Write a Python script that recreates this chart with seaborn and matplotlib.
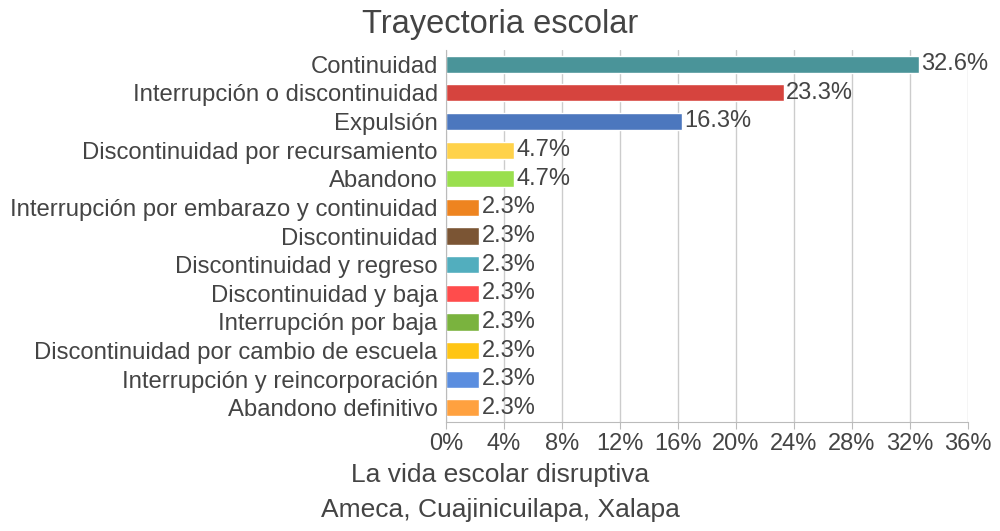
import matplotlib
matplotlib.use("Agg")
import matplotlib.pyplot as plt
import seaborn as sns
import pandas as pd
from matplotlib.ticker import FuncFormatter, MultipleLocator

categories = [
    "Continuidad",
    "Interrupción o discontinuidad",
    "Expulsión",
    "Discontinuidad por recursamiento",
    "Abandono",
    "Interrupción por embarazo y continuidad",
    "Discontinuidad",
    "Discontinuidad y regreso",
    "Discontinuidad y baja",
    "Interrupción por baja",
    "Discontinuidad por cambio de escuela",
    "Interrupción y reincorporación",
    "Abandono definitivo",
]
values = [32.6, 23.3, 16.3, 4.7, 4.7, 2.3, 2.3, 2.3, 2.3, 2.3, 2.3, 2.3, 2.3]
colors = ["#4A9499", "#D6443E", "#4C77BE", "#FFD24A", "#9ADF4E", "#EE8420",
          "#7B5534", "#52AEBE", "#FF4C4C", "#7AB33E", "#FFC515", "#5B8EDF", "#FFA13F"]

sns.set_style("white")
plt.rcParams["font.family"] = ["Liberation Sans", "DejaVu Sans"]
text_color = "#444444"

df = pd.DataFrame({"cat": categories, "val": values})

fig = plt.figure(figsize=(10, 5.31), dpi=100)
ax = fig.add_axes([0.446, 0.205, 0.522, 0.701])

sns.barplot(data=df, x="val", y="cat", hue="cat", palette=colors, legend=False,
            width=0.6, ax=ax, orient="h", saturation=1)

ax.set_xlim(0, 36)
ax.xaxis.set_major_locator(MultipleLocator(4))
ax.xaxis.set_major_formatter(FuncFormatter(lambda v, p: f"{v:.0f}%"))
ax.grid(axis="x", color="#CCCCCC", linewidth=1)
ax.set_axisbelow(True)
for s in ["top", "right"]:
    ax.spines[s].set_visible(False)
ax.spines["left"].set_color("#BBBBBB")
ax.spines["bottom"].set_color("#BBBBBB")
ax.tick_params(axis="x", colors=text_color, labelsize=17, length=5, color="#BBBBBB", pad=3, direction="out", bottom=True)
ax.tick_params(axis="y", colors=text_color, labelsize=17.2, length=0, pad=6)
for lab in ax.get_xticklabels() + ax.get_yticklabels():
    lab.set_color(text_color)

for i, v in enumerate(values):
    ax.text(v + 0.15, i, f"{v}%", va="center", ha="left", fontsize=17, color=text_color)

ax.set_ylabel("")
ax.set_xlabel("")
fig.text(0.5, 1 - 475 / 531, "La vida escolar disruptiva", ha="center", va="center",
         fontsize=19, color=text_color)
fig.text(0.5, 1 - 510 / 531, "Ameca, Cuajinicuilapa, Xalapa", ha="center", va="center",
         fontsize=19, color=text_color)
fig.text(0.5, 1 - 25 / 531, "Trayectoria escolar", ha="center", va="center",
         fontsize=23.5, color=text_color)

fig.savefig("out.png", dpi=100)
